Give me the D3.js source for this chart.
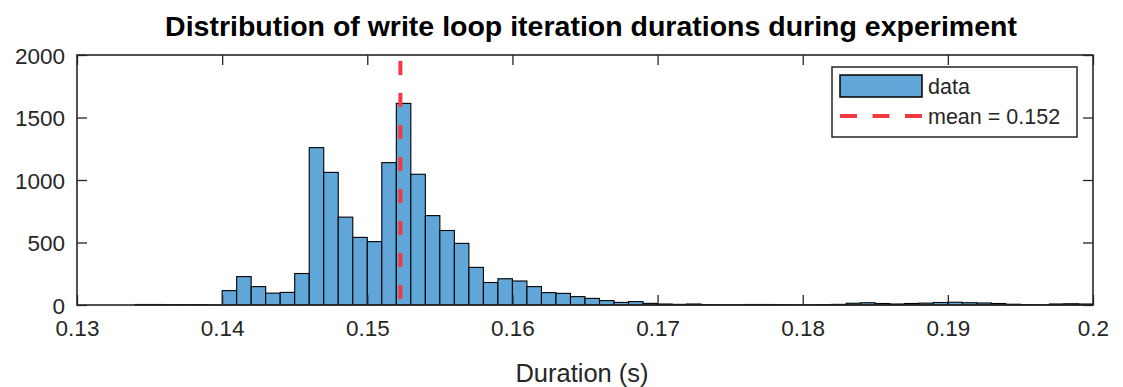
<!DOCTYPE html>
<html lang="en">
  <head>
    <meta charset="UTF-8" />
    <title>Write loop durations</title>
    <style>
      body { margin: 0; background: #fff; }
      text { font-family: "Liberation Sans", Arial, Helvetica, sans-serif; }
      .tick text { fill: #262626; }
    </style>
  </head>
  <body>
    <div id="chart"></div>

    <script src="https://cdn.jsdelivr.net/npm/d3@7"></script>
    <script>
      // bin left edges (s), bin width 0.001
      var binStarts = [
        0.130, 0.131, 0.132, 0.133, 0.134, 0.135, 0.136, 0.137, 0.138, 0.139,
        0.140, 0.141, 0.142, 0.143, 0.144, 0.145, 0.146, 0.147, 0.148, 0.149,
        0.150, 0.151, 0.152, 0.153, 0.154, 0.155, 0.156, 0.157, 0.158, 0.159,
        0.160, 0.161, 0.162, 0.163, 0.164, 0.165, 0.166, 0.167, 0.168, 0.169,
        0.170, 0.171, 0.172, 0.173, 0.174, 0.175, 0.176, 0.177, 0.178, 0.179,
        0.180, 0.181, 0.182, 0.183, 0.184, 0.185, 0.186, 0.187, 0.188, 0.189,
        0.190, 0.191, 0.192, 0.193, 0.194, 0.195, 0.196, 0.197, 0.198, 0.199
      ];
      var binWidth = 0.001;
      var counts = [
        0, 0, 0, 0, 4, 4, 3, 3, 3, 1,
        115, 227, 147, 95, 101, 252, 1259, 1061, 703, 541,
        507, 1139, 1613, 1046, 715, 596, 493, 301, 180, 210,
        192, 147, 99, 93, 67, 53, 35, 21, 27, 13,
        8, 5, 8, 3, 2, 2, 4, 4, 3, 2,
        2, 3, 5, 14, 18, 12, 8, 12, 15, 20,
        22, 18, 16, 12, 6, 3, 2, 8, 10, 8
      ];
      var meanValue = 0.15228;
      var meanLabel = "mean = 0.152";
      var xTicks = [0.13, 0.14, 0.15, 0.16, 0.17, 0.18, 0.19, 0.2];
      var yTicks = [0, 500, 1000, 1500, 2000];

      var width = 1123;
      var height = 387;
      var margin = { top: 55, right: 30, bottom: 82, left: 77 };
      var axisColor = "#262626";
      var barColor = "#60a6d8";
      var meanColor = "#f03a40";

      var svg = d3.select("#chart")
                  .append("svg")
                  .attr("width", width)
                  .attr("height", height);

      var xScale = d3.scaleLinear()
                     .domain([0.13, 0.2])
                     .range([margin.left, width - margin.right]);
      var yScale = d3.scaleLinear()
                     .domain([0, 2000])
                     .range([height - margin.bottom, margin.top]);

      var x0 = margin.left, x1 = width - margin.right;
      var y0 = height - margin.bottom, y1 = margin.top;

      // bars
      svg.selectAll("rect.bar")
         .data(counts)
         .enter()
         .append("rect")
         .attr("class", "bar")
         .attr("x", function(d, i){ return xScale(binStarts[i]); })
         .attr("width", function(d, i){ return xScale(binStarts[i] + binWidth) - xScale(binStarts[i]); })
         .attr("y", function(d){ return yScale(d); })
         .attr("height", function(d){ return yScale(0) - yScale(d); })
         .attr("fill", barColor)
         .attr("stroke", "#000")
         .attr("stroke-width", 1.1);

      // mean line
      svg.append("line")
         .attr("x1", xScale(meanValue))
         .attr("x2", xScale(meanValue))
         .attr("y1", y1)
         .attr("y2", y0)
         .attr("stroke", meanColor)
         .attr("stroke-width", 4)
         .attr("stroke-dasharray", "14,18")
         .attr("stroke-dashoffset", 26);

      // axes (ticks point inward, box all round)
      var xAxis = d3.axisBottom(xScale)
                    .tickValues(xTicks)
                    .tickSizeInner(-10)
                    .tickSizeOuter(0)
                    .tickPadding(15)
                    .tickFormat(d3.format("~g"));
      var yAxis = d3.axisLeft(yScale)
                    .tickValues(yTicks)
                    .tickSizeInner(-10)
                    .tickSizeOuter(0)
                    .tickPadding(12)
                    .tickFormat(d3.format("d"));

      var gx = svg.append("g")
                  .attr("transform", "translate(0," + y0 + ")")
                  .call(xAxis);
      var gy = svg.append("g")
                  .attr("transform", "translate(" + x0 + ",0)")
                  .call(yAxis);
      [gx, gy].forEach(function(g){
        g.select(".domain").remove();
        g.selectAll(".tick line").attr("stroke", axisColor).attr("stroke-width", 1.3);
        g.selectAll(".tick text").attr("font-size", 22.5);
      });
      gy.selectAll(".tick text").attr("dy", "0.36em");

      var gxTop = svg.append("g")
                     .attr("transform", "translate(0," + y1 + ")")
                     .call(d3.axisTop(xScale).tickValues(xTicks).tickSizeInner(-10).tickSizeOuter(0).tickFormat(""));
      var gyRight = svg.append("g")
                       .attr("transform", "translate(" + x1 + ",0)")
                       .call(d3.axisRight(yScale).tickValues(yTicks).tickSizeInner(-10).tickSizeOuter(0).tickFormat(""));
      [gxTop, gyRight].forEach(function(g){
        g.select(".domain").remove();
        g.selectAll(".tick line").attr("stroke", axisColor).attr("stroke-width", 1.3);
      });

      svg.append("rect")
         .attr("x", x0)
         .attr("y", y1)
         .attr("width", x1 - x0)
         .attr("height", y0 - y1)
         .attr("fill", "none")
         .attr("stroke", axisColor)
         .attr("stroke-width", 1.6);

      // title + label
      svg.append("text")
         .attr("x", 591)
         .attr("y", 36)
         .attr("text-anchor", "middle")
         .attr("font-size", 28.5)
         .attr("font-weight", "bold")
         .attr("fill", "#000")
         .text("Distribution of write loop iteration durations during experiment");

      svg.append("text")
         .attr("x", 582)
         .attr("y", 382)
         .attr("text-anchor", "middle")
         .attr("font-size", 25.5)
         .attr("fill", axisColor)
         .text("Duration (s)");

      // legend
      var legend = svg.append("g").attr("transform", "translate(832,67)");
      legend.append("rect")
            .attr("width", 245)
            .attr("height", 70)
            .attr("fill", "#fff")
            .attr("stroke", axisColor)
            .attr("stroke-width", 1.5);
      legend.append("rect")
            .attr("x", 8)
            .attr("y", 8)
            .attr("width", 82)
            .attr("height", 22)
            .attr("fill", barColor)
            .attr("stroke", "#000")
            .attr("stroke-width", 1.5);
      legend.append("line")
            .attr("x1", 8)
            .attr("x2", 90)
            .attr("y1", 49)
            .attr("y2", 49)
            .attr("stroke", meanColor)
            .attr("stroke-width", 4)
            .attr("stroke-dasharray", "17,15.5");
      legend.append("text")
            .attr("x", 96)
            .attr("y", 27)
            .attr("font-size", 21.5)
            .attr("fill", axisColor)
            .text("data");
      legend.append("text")
            .attr("x", 96)
            .attr("y", 57)
            .attr("font-size", 21.5)
            .attr("fill", axisColor)
            .text(meanLabel);
    </script>
  </body>
</html>
